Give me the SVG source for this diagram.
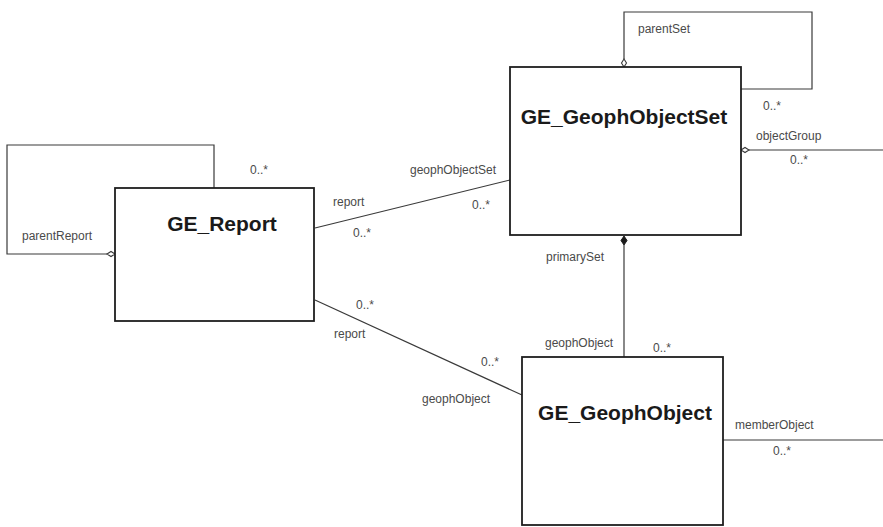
<svg xmlns="http://www.w3.org/2000/svg" width="883" height="527" viewBox="0 0 883 527">
  <style>
    .cls { fill: #ffffff; stroke: #1e1e1e; stroke-width: 1.8; }
    .title { font-family: "Liberation Sans", Arial, sans-serif; font-weight: bold; font-size: 21px; fill: #1a1a1a; text-anchor: middle; }
    .lbl { font-family: "Liberation Sans", Arial, sans-serif; font-size: 12px; fill: #4a4a4a; }
    .edge { fill: none; stroke: #3a3a3a; stroke-width: 1.2; }
    .agg { fill: #ffffff; stroke: #3a3a3a; stroke-width: 1.1; }
    .comp { fill: #1a1a1a; stroke: #1a1a1a; stroke-width: 1; }
  </style>
  <rect width="883" height="527" fill="#ffffff"/>

  <g id="connectors">
    <!-- GE_Report self association (parentReport) -->
    <polyline class="edge" points="214,188 214,145 7,145 7,254 107,254"/>
    <path class="agg" d="M107,254 L111,251.5 L115,254 L111,256.5 Z"/>
    <!-- GE_GeophObjectSet self association (parentSet) -->
    <polyline class="edge" points="624,59 624,12 812,12 812,89 741,89"/>
    <path class="agg" d="M624,59 L626.5,63 L624,67 L621.5,63 Z"/>
    <!-- objectGroup -->
    <line class="edge" x1="749" y1="150" x2="883" y2="150"/>
    <path class="agg" d="M741,150 L745,147.5 L749,150 L745,152.5 Z"/>
    <!-- GE_Report to GE_GeophObjectSet -->
    <line class="edge" x1="315" y1="228" x2="510" y2="180"/>
    <!-- GE_Report to GE_GeophObject -->
    <line class="edge" x1="315" y1="300" x2="522" y2="395"/>
    <!-- primarySet composition -->
    <line class="edge" x1="624" y1="245" x2="624" y2="357"/>
    <path class="comp" d="M624,236 L627,240.5 L624,245 L621,240.5 Z"/>
    <!-- memberObject -->
    <line class="edge" x1="723" y1="440" x2="883" y2="440"/>
  </g>

  <g id="GE_Report">
    <rect class="cls" x="115" y="188" width="199" height="133"/>
    <text class="title" x="222" y="231">GE_Report</text>
  </g>

  <g id="GE_GeophObjectSet">
    <rect class="cls" x="510" y="67" width="231" height="168"/>
    <text class="title" x="624" y="124">GE_GeophObjectSet</text>
  </g>

  <g id="GE_GeophObject">
    <rect class="cls" x="522" y="357" width="201" height="168"/>
    <text class="title" x="625" y="420">GE_GeophObject</text>
  </g>

  <g id="labels">
    <text class="lbl" x="22" y="240">parentReport</text>
    <text class="lbl" x="250" y="174">0..*</text>
    <text class="lbl" x="638" y="33">parentSet</text>
    <text class="lbl" x="763" y="110">0..*</text>
    <text class="lbl" x="756" y="140">objectGroup</text>
    <text class="lbl" x="790" y="164">0..*</text>
    <text class="lbl" x="410" y="174">geophObjectSet</text>
    <text class="lbl" x="472" y="209">0..*</text>
    <text class="lbl" x="333" y="206">report</text>
    <text class="lbl" x="353" y="237">0..*</text>
    <text class="lbl" x="356" y="309">0..*</text>
    <text class="lbl" x="334" y="338">report</text>
    <text class="lbl" x="481" y="366">0..*</text>
    <text class="lbl" x="422" y="403">geophObject</text>
    <text class="lbl" x="546" y="261">primarySet</text>
    <text class="lbl" x="545" y="347">geophObject</text>
    <text class="lbl" x="653" y="352">0..*</text>
    <text class="lbl" x="735" y="429">memberObject</text>
    <text class="lbl" x="773" y="455">0..*</text>
  </g>
</svg>
